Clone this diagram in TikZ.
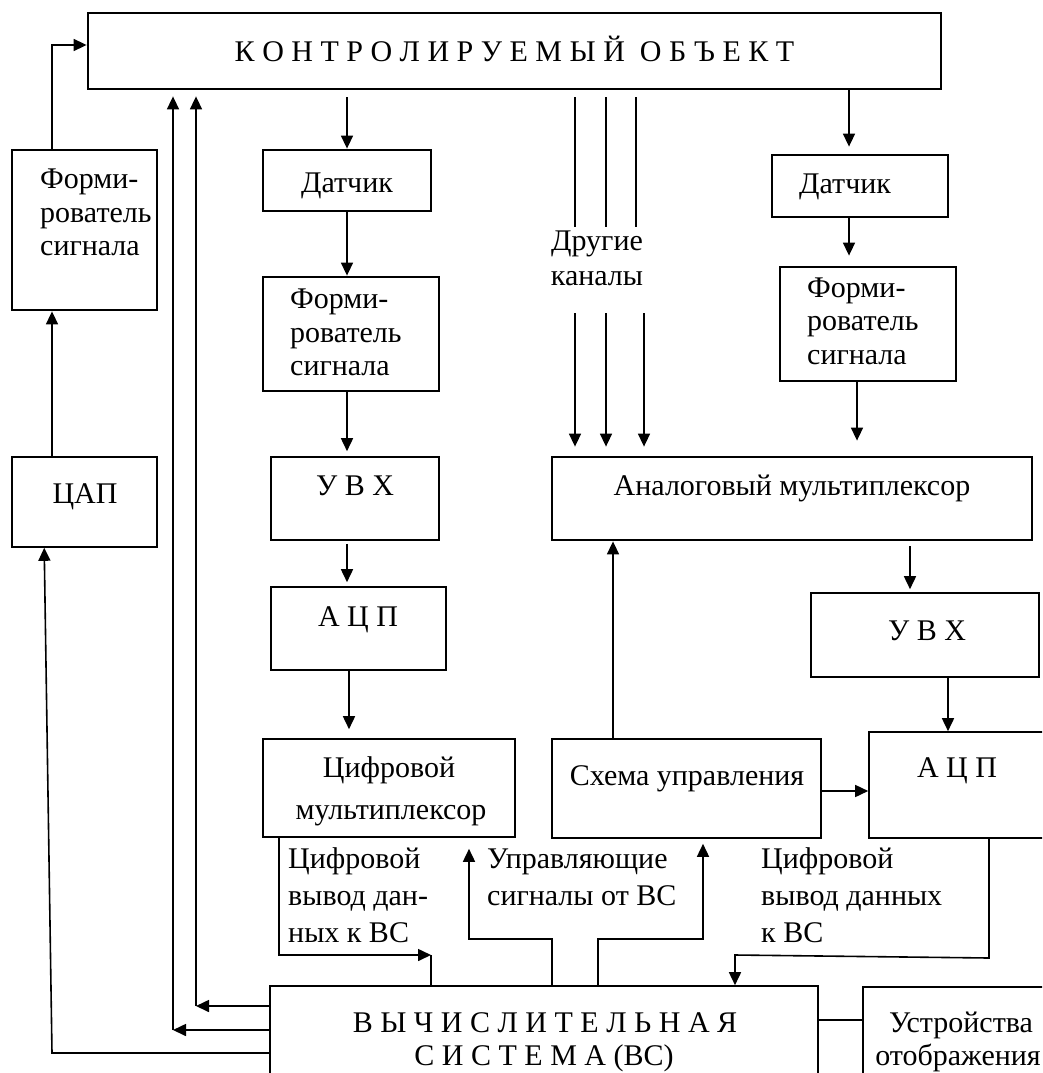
\documentclass[tikz,border=0pt]{standalone}
\usepackage{fontspec}
\setmainfont{Liberation Serif}
\usetikzlibrary{arrows.meta}
\newcommand\fs{\fontsize{30}{35}\selectfont}
\begin{document}
\begin{tikzpicture}[x=1pt,y=-1pt,
  box/.style={draw, rectangle, line width=1.6pt, inner sep=0pt},
  tbox/.style={box, line width=2.8pt},
  arr/.style={-{Triangle[length=13pt,width=12pt]}, line width=1.6pt},
  ln/.style={line width=1.6pt},
  txt/.style={font=\fs, inner sep=0pt, anchor=base},
  ltxt/.style={font=\fs, inner sep=0pt, anchor=base west}]
\useasboundingbox (0,0) rectangle (1042,1073);
\clip (0,0) rectangle (1042,1073);
% boxes
\node[tbox, minimum width=853pt, minimum height=76pt] (obj) at (514.5,51) {};
\node[tbox, minimum width=145pt, minimum height=160pt] (form1) at (84.5,230) {};
\node[box, minimum width=145pt, minimum height=90pt] (cap) at (84.5,502) {};
\node[tbox, minimum width=168pt, minimum height=61pt] (dat1) at (347,180.5) {};
\node[tbox, minimum width=176pt, minimum height=114pt] (form2) at (351,334) {};
\node[box, minimum width=168pt, minimum height=83pt] (uvh1) at (355,498.5) {};
\node[box, minimum width=175pt, minimum height=83pt] (acp1) at (358.5,628.5) {};
\node[box, minimum width=252pt, minimum height=98pt] (cmux) at (389,788) {};
\node[box, minimum width=269pt, minimum height=99pt] (ctrl) at (686.5,788.5) {};
\node[box, minimum width=191pt, minimum height=106pt] (acp2) at (964.5,785) {};
\node[box, minimum width=548pt, minimum height=114pt] (vs) at (544,1043) {};
\node[box, minimum width=197pt, minimum height=113pt] (disp) at (961.5,1043.5) {};
\node[tbox, minimum width=176pt, minimum height=62pt] (dat2) at (860,186) {};
\node[tbox, minimum width=176pt, minimum height=114pt] (form3) at (868,324) {};
\node[tbox, minimum width=480pt, minimum height=83pt] (amux) at (792,498.5) {};
\node[box, minimum width=228pt, minimum height=84pt] (uvh2) at (925,635) {};
% texts
\node[txt] (tobj) at (514.5,62) {К О Н Т Р О Л И Р У Е М Ы Й \ О Б Ъ Е К Т};
\node[ltxt] (tf1a) at (40,188) {Форми-};
\node[ltxt] (tf1b) at (40,222) {рователь};
\node[ltxt] (tf1c) at (40,255) {сигнала};
\node[txt] (tcap) at (85,503) {ЦАП};
\node[txt] (td1) at (347,192) {Датчик};
\node[ltxt] (tf2a) at (290,308) {Форми-};
\node[ltxt] (tf2b) at (290,342) {рователь};
\node[ltxt] (tf2c) at (290,375) {сигнала};
\node[txt] (tu1) at (355,495) {У В Х};
\node[txt] (ta1) at (358,626) {А Ц П};
\node[txt] (tcm1) at (389,777) {Цифровой};
\node[txt] (tcm2) at (391,819) {мультиплексор};
\node[ltxt] (tl1a) at (288,868) {Цифровой};
\node[ltxt] (tl1b) at (288,905) {вывод дан-};
\node[ltxt] (tl1c) at (288,942) {ных к ВС};
\node[ltxt] (tl2a) at (487,868) {Управляющие};
\node[ltxt] (tl2b) at (487,905) {сигналы от ВС};
\node[txt] (tctrl) at (687,785) {Схема управления};
\node[txt] (tu2) at (927,640) {У В Х};
\node[txt] (ta2) at (957,777) {А Ц П};
\node[ltxt] (tl3a) at (761,868) {Цифровой};
\node[ltxt] (tl3b) at (761,905) {вывод данных};
\node[ltxt] (tl3c) at (761,942) {к ВС};
\node[txt] (tvs1) at (545,1032) {В Ы Ч И С Л И Т Е Л Ь Н А Я};
\node[txt] (tvs2) at (544,1065) {С И С Т Е М А (ВС)};
\node[txt] (tdisp1) at (961,1032) {Устройства};
\node[txt] (tdisp2) at (958,1065) {отображения};
\node[ltxt] (td2) at (799,193) {Датчик};
\node[ltxt] (tf3a) at (807,297) {Форми-};
\node[ltxt] (tf3b) at (807,330) {рователь};
\node[ltxt] (tf3c) at (807,364) {сигнала};
\node[txt] (tamux) at (792,495) {Аналоговый мультиплексор};
\node[txt] (toth1) at (597,250) {Другие};
\node[txt] (toth2) at (597,285) {каналы};
% coordinates
\coordinate (c1) at (52,45);
\coordinate (c196) at (196,1006);
\coordinate (c173) at (173,1030);
\coordinate (c52) at (52,1053);
\coordinate (cm1) at (431,955);
\coordinate (cv1) at (469,939);
\coordinate (cv2) at (703,939);
\coordinate (ca2) at (735,955);
\coordinate (o1t) at (575,97);  \coordinate (o1b) at (575,227);
\coordinate (o2t) at (606,97);  \coordinate (o2b) at (606,227);
\coordinate (o3t) at (636,97);  \coordinate (o3b) at (636,227);
\coordinate (o1s) at (575,313); \coordinate (o2s) at (606,313); \coordinate (o3s) at (644,313);
% connectors left
\draw[arr] (form1.north -| c1) -- (c1) -- (obj.west |- c1);
\draw[arr] (cap.north -| c1) -- (form1.south -| c1);
\draw[arr] (vs.west |- c52) -- (c52) -- ([xshift=33pt]cap.south west);
\draw[arr] (vs.west |- c196) -- (c196);
\draw[arr] (c196) -- ([yshift=-6pt]obj.south -| c196);
\draw[arr] (vs.west |- c173) -- (c173);
\draw[arr] (c173) -- ([yshift=-6pt]obj.south -| c173);
% middle chain
\draw[arr, shorten <=7pt] (obj.south -| dat1.north) -- (dat1.north);
\draw[arr] (dat1.south) -- (form2.north -| dat1.south);
\draw[arr, shorten >=5pt] (form2.south -| dat1.south) -- (uvh1.north -| dat1.south);
\draw[arr, shorten >=4pt, shorten <=3pt] (uvh1.south -| dat1.south) -- (acp1.north -| dat1.south);
\draw[arr, shorten >=9pt] (acp1.south -| 349,0) -- (cmux.north -| 349,0);
\draw[arr] (cmux.south -| 279,0) |- (cm1);
\draw[ln] (cm1) -- (vs.north -| cm1);
\draw[arr, shorten >=11pt] (vs.north -| 552,0) |- (cv1) -- (cmux.south -| cv1);
\draw[arr, shorten >=5pt] (vs.north -| 598,0) |- (cv2) -- (ctrl.south -| cv2);
\draw[arr] (ctrl.north -| 613,0) -- (amux.south -| 613,0);
\draw[arr] (ctrl.east |- 0,791) -- (acp2.west |- 0,791);
\draw[arr] (acp2.south -| 989,0) -- (989,958) -- (ca2) -- (vs.north -| ca2);
\draw[ln] (vs.east |- 0,1020) -- (disp.west |- 0,1020);
% right chain
\draw[arr, shorten >=7pt] (obj.south -| 849,0) -- (dat2.north -| 849,0);
\draw[arr, shorten >=10pt] (dat2.south -| 849,0) -- (form3.north -| 849,0);
\draw[arr, shorten >=15pt] (form3.south -| 857,0) -- (amux.north -| 857,0);
\draw[arr, shorten <=5pt, shorten >=3pt] (amux.south -| 910,0) -- (uvh2.north -| 910,0);
\draw[arr] (uvh2.south -| 948,0) -- (acp2.north -| 948,0);
% other channels
\draw[ln] (o1t) -- (o1b);
\draw[ln] (o2t) -- (o2b);
\draw[ln] (o3t) -- (o3b);
\draw[arr, shorten >=9pt] (o1s) -- (amux.north -| o1s);
\draw[arr, shorten >=9pt] (o2s) -- (amux.north -| o2s);
\draw[arr, shorten >=9pt] (o3s) -- (amux.north -| o3s);
\end{tikzpicture}
\end{document}
